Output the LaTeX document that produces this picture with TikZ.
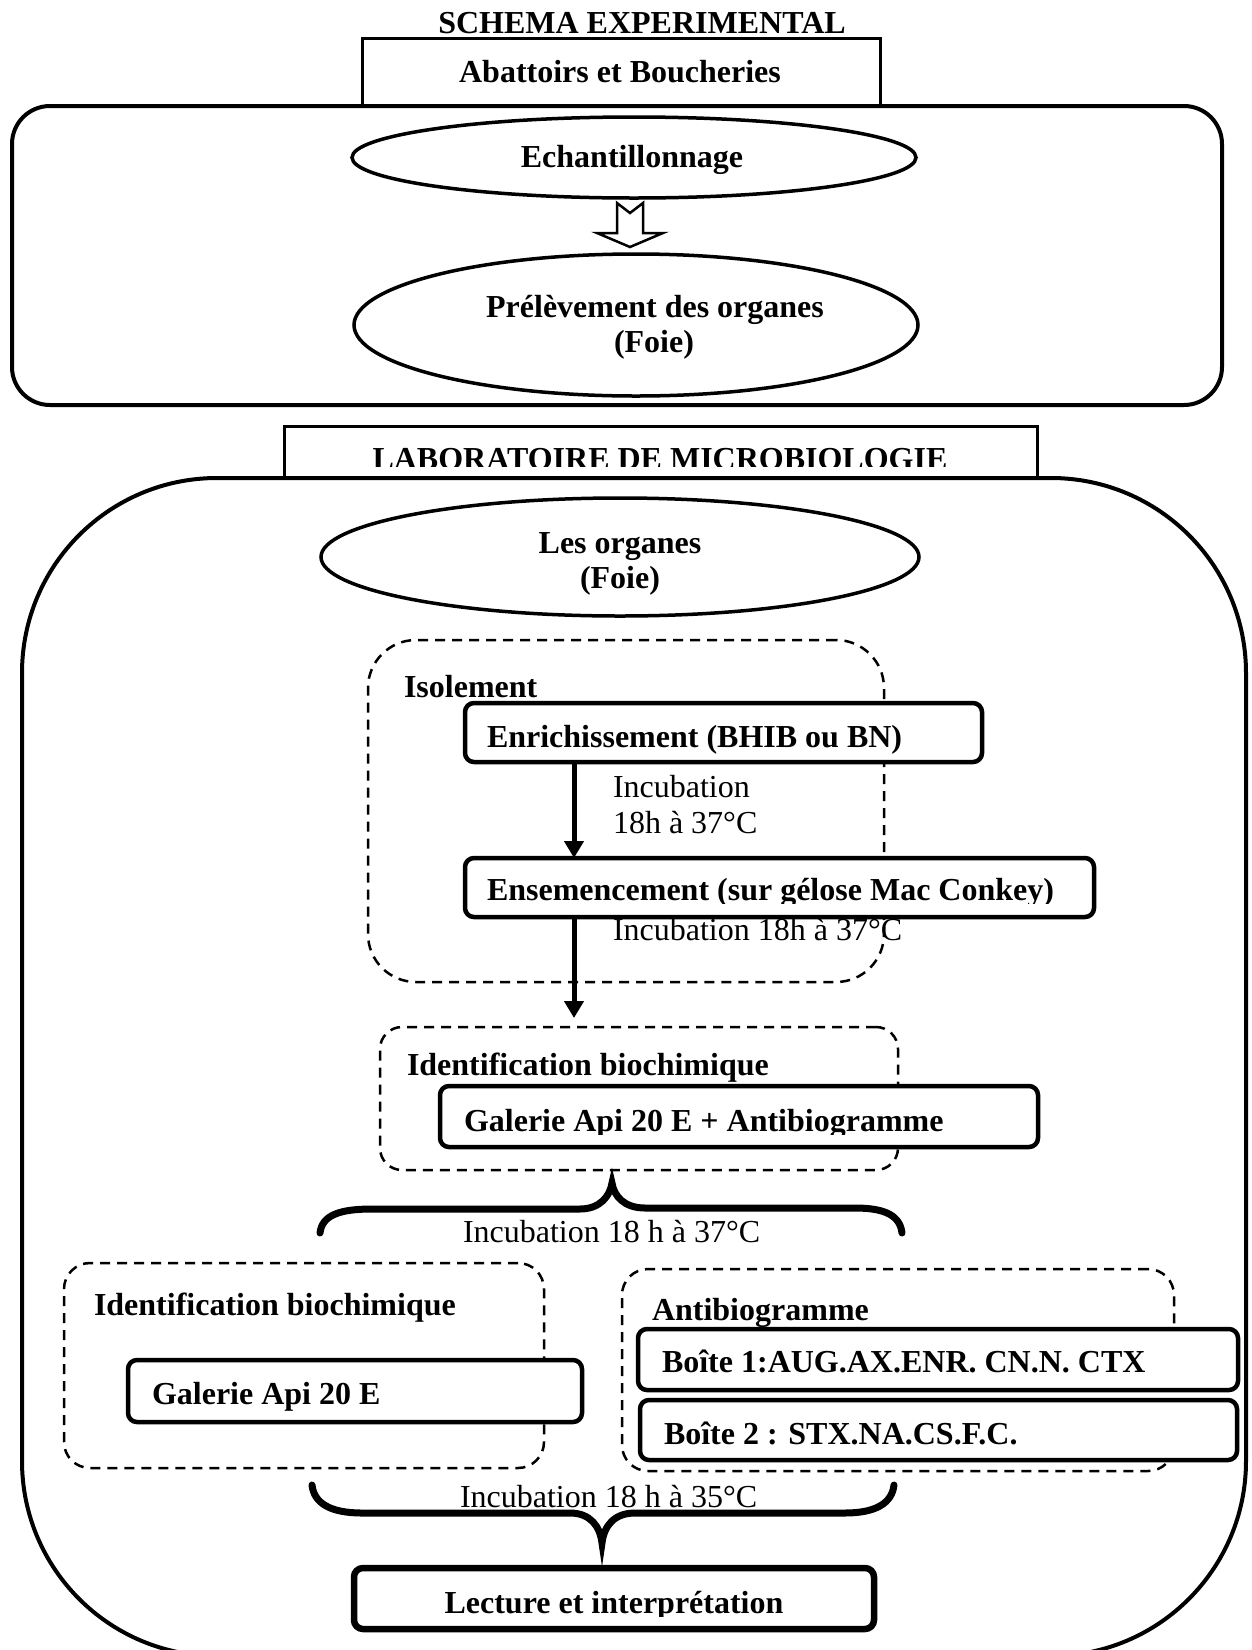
\documentclass[tikz,border=0pt]{standalone}
\usepackage{fontspec}
\setmainfont{Liberation Serif}
\usetikzlibrary{shapes.geometric,arrows.meta}
\begin{document}
\begin{tikzpicture}[x=1pt,y=-1pt,
  every node/.style={inner sep=0pt, outer sep=0pt},
  txt/.style={font=\fontsize{32}{38}\selectfont\bfseries},
  txtn/.style={font=\fontsize{32}{38}\selectfont},
  plainbox/.style={draw, rectangle, line width=3pt, fill=white},
  zone/.style={draw, rectangle, line width=4pt, fill=white},
  roundbox/.style={draw, rectangle, line width=4.5pt, rounded corners=9pt, fill=white},
  oval/.style={draw, ellipse, line width=3.5pt, fill=white},
  dbox/.style={draw, rectangle, dash pattern=on 10pt off 7pt, line width=2.5pt},
  brace/.style={line width=7pt, line cap=round},
  flow/.style={line width=5pt, -{Triangle[length=17pt,width=19pt]}},
]
\clip (0,0) rectangle (1252,1650);
\useasboundingbox (0,0) rectangle (1252,1650);

% ---------- top part ----------
\node[txt, anchor=base] (title) at (642,33) {SCHEMA EXPERIMENTAL};
\node[plainbox, minimum width=518pt, minimum height=67pt] (abat) at (621,71.5) {};
\node[txt, anchor=base] (abatT) at (620,82) {Abattoirs et Boucheries};

\node[zone, rounded corners=38pt, minimum width=1210pt, minimum height=299pt] (zone1) at (617,255.5) {};

\node[oval, minimum width=564pt, minimum height=81pt] (echan) at (634,157.5) {};
\node[txt, anchor=base] (echanT) at (632,167) {Echantillonnage};

\draw[line width=2.5pt, fill=white, line join=miter]
  (617,203) -- (630,213) -- (643,203) -- (643,233) -- (663,233) -- (630,247)
  -- (597,233) -- (617,233) -- cycle;

\node[oval, minimum width=564pt, minimum height=142pt] (prel) at (636,325) {};
\node[txt, anchor=base] (prelT1) at (655,317) {Prélèvement des organes};
\node[txt, anchor=base] (prelT2) at (654,352) {(Foie)};

% ---------- laboratory ----------
\node[plainbox, minimum width=753pt, minimum height=52pt] (lab) at (661,452) {};
\begin{scope}
  \clip (290,428) rectangle (1030,466);
  \node[txt, anchor=base] (labT) at (660,469) {LABORATOIRE DE MICROBIOLOGIE};
\end{scope}

\node[zone, rounded corners=195pt, minimum width=1224pt, minimum height=1178pt] (zone2) at (634,1067) {};

\node[oval, minimum width=598pt, minimum height=118pt] (org) at (620,557) {};
\node[txt, anchor=base] (orgT1) at (620,553) {Les organes};
\node[txt, anchor=base] (orgT2) at (620,588) {(Foie)};

% dashed groups
\node[dbox, rounded corners=48pt, minimum width=516pt, minimum height=342pt] (iso) at (626,811) {};
\node[dbox, rounded corners=22pt, minimum width=518pt, minimum height=143pt] (idb) at (639,1098.5) {};
\node[dbox, rounded corners=26pt, minimum width=480pt, minimum height=205pt] (idb2) at (304,1365.5) {};
\node[dbox, rounded corners=26pt, minimum width=552pt, minimum height=202pt] (atb) at (898,1370) {};

% solid boxes
\node[roundbox, minimum width=517pt, minimum height=59pt] (enr) at (723.5,732.5) {};
\node[roundbox, minimum width=629pt, minimum height=59pt] (ens) at (779.5,887.5) {};
\node[roundbox, minimum width=598pt, minimum height=61pt] (gal1) at (739,1116.5) {};
\node[roundbox, minimum width=454pt, minimum height=62pt] (gal2) at (355,1391) {};
\node[roundbox, minimum width=600pt, minimum height=61pt] (b1) at (938,1359.5) {};
\node[roundbox, minimum width=597pt, minimum height=60pt] (b2) at (938.5,1430) {};
\node[roundbox, line width=6.5pt, minimum width=520pt, minimum height=61pt] (lec) at (614,1598.5) {};

% texts
\node[txt, anchor=base west] (isoT) at (404,697) {Isolement};
\node[txt, anchor=base west] (enrT) at (487,747) {Enrichissement (BHIB ou BN)};
\node[txtn, anchor=base west] (inc1a) at (613,797) {Incubation};
\node[txtn, anchor=base west] (inc1b) at (613,833) {18h à 37°C};
\begin{scope}
  \clip (470,862) rectangle (1090,903);
  \node[txt, anchor=base west] (ensT) at (487,900) {Ensemencement (sur gélose Mac Conkey)};
\end{scope}
\node[txtn, anchor=base west] (inc2) at (613,940) {Incubation 18h à 37°C};
\node[txt, anchor=base west] (idbT) at (407,1075) {Identification biochimique};
\begin{scope}
  \clip (445,1090) rectangle (1034,1134);
  \node[txt, anchor=base west] (gal1T) at (464,1131) {Galerie Api 20 E + Antibiogramme};
\end{scope}
\node[txtn, anchor=base west] (inc3) at (463,1242) {Incubation 18 h à 37°C};
\node[txt, anchor=base west] (idb2T) at (94,1315) {Identification biochimique};
\node[txt, anchor=base west] (gal2T) at (152,1404) {Galerie Api 20 E};
\node[txt, anchor=base west] (atbT) at (652,1320) {Antibiogramme};
\node[txt, anchor=base west] (b1T) at (662,1372) {Boîte 1:AUG.AX.ENR. CN.N. CTX};
\node[txt, anchor=base west] (b2T) at (664,1444) {Boîte 2 : STX.NA.CS.F.C.};
\node[txtn, anchor=base west] (inc4) at (460,1507) {Incubation 18 h à 35°C};
\begin{scope}
  \clip (360,1572) rectangle (868,1616);
  \node[txt, anchor=base] (lecT) at (614,1613) {Lecture et interprétation};
\end{scope}

% arrows
\coordinate (ax) at (574,0);
\draw[flow] (enr.south -| ax) -- (ens.north -| ax);
\draw[flow, shorten >=9pt] (ens.south -| ax) -- (idb.north -| ax);

% braces
\draw[brace] (320,1233) .. controls (322,1215) and (340,1209) .. (372,1209)
  -- (580,1209) .. controls (600,1209) and (610,1196) .. (612,1183)
  .. controls (614,1196) and (624,1208) .. (645,1208)
  -- (855,1208) .. controls (886,1208) and (900,1216) .. (902,1233);
\draw[brace] (312,1485) .. controls (314,1503) and (330,1513) .. (362,1513)
  -- (570,1513) .. controls (590,1513) and (600,1526) .. (602,1543)
  .. controls (604,1526) and (614,1513) .. (635,1513)
  -- (845,1513) .. controls (876,1513) and (892,1503) .. (894,1485);
\end{tikzpicture}
\end{document}
